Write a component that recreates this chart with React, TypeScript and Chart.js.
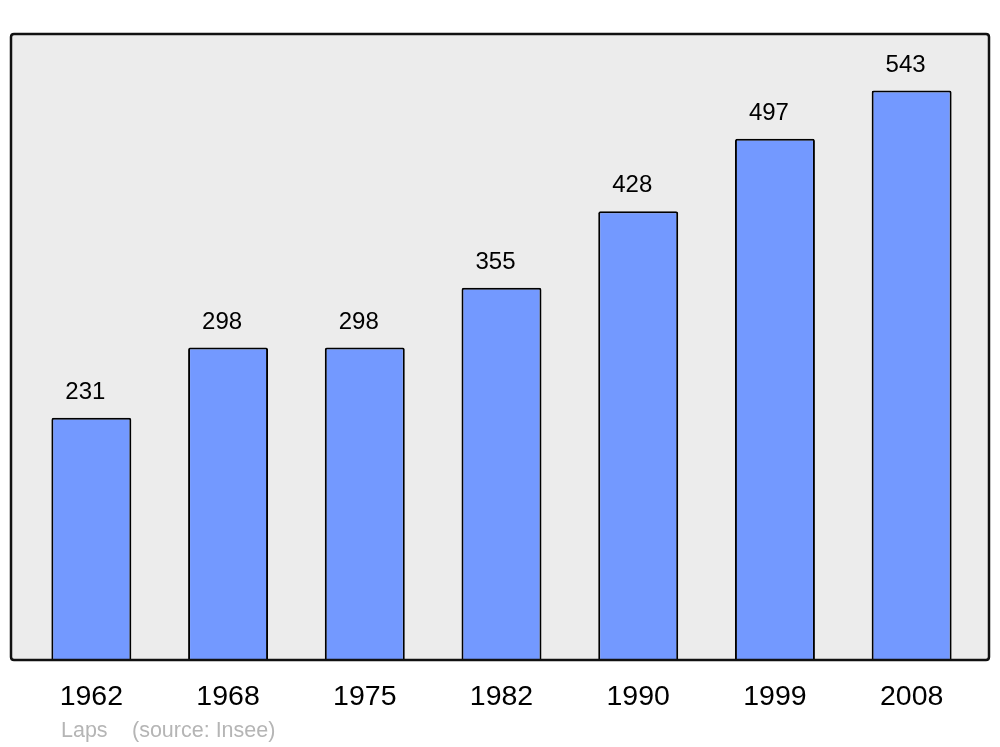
import React, { useEffect, useRef } from "react";
import { Chart, registerables } from "chart.js";

Chart.register(...registerables);

const years = ["1962", "1968", "1975", "1982", "1990", "1999", "2008"];
const population = [231, 298, 298, 355, 428, 497, 543];
const footerLeft = "Laps";
const footerRight = "(source: Insee)";

const FONT = "'Liberation Sans', Arial, sans-serif";

function roundRect(ctx: CanvasRenderingContext2D, x: number, y: number, w: number, h: number, r: number) {
  ctx.beginPath();
  ctx.moveTo(x + r, y);
  ctx.lineTo(x + w - r, y);
  ctx.quadraticCurveTo(x + w, y, x + w, y + r);
  ctx.lineTo(x + w, y + h - r);
  ctx.quadraticCurveTo(x + w, y + h, x + w - r, y + h);
  ctx.lineTo(x + r, y + h);
  ctx.quadraticCurveTo(x, y + h, x, y + h - r);
  ctx.lineTo(x, y + r);
  ctx.quadraticCurveTo(x, y, x + r, y);
  ctx.closePath();
}

const framePlugin = {
  id: "frame",
  beforeDatasetsDraw(chart: any) {
    const { ctx, chartArea } = chart;
    const x = chartArea.left - 12;
    const y = chartArea.top;
    const w = chartArea.right + 9 - x;
    const h = chartArea.bottom - y;
    ctx.save();
    roundRect(ctx, x, y, w, h, 3);
    ctx.fillStyle = "#ececec";
    ctx.fill();
    ctx.restore();
  },
  afterDatasetsDraw(chart: any) {
    const { ctx, chartArea } = chart;
    const x = chartArea.left - 12;
    const y = chartArea.top;
    const w = chartArea.right + 9 - x;
    const h = chartArea.bottom - y;
    ctx.save();
    roundRect(ctx, x, y, w, h, 3);
    ctx.lineWidth = 2.5;
    ctx.strokeStyle = "#111111";
    ctx.stroke();

    // value labels
    const meta = chart.getDatasetMeta(0);
    ctx.fillStyle = "#000";
    ctx.font = `24px ${FONT}`;
    ctx.textAlign = "center";
    ctx.textBaseline = "alphabetic";
    meta.data.forEach((bar: any, i: number) => {
      ctx.fillText(String(population[i]), bar.x - 6, bar.y - 19);
    });

    // footer
    ctx.fillStyle = "#b5b5b5";
    ctx.font = `21.5px ${FONT}`;
    ctx.textAlign = "left";
    ctx.fillText(footerLeft, chartArea.left + 38, chartArea.bottom + 77);
    ctx.fillText(footerRight, chartArea.left + 109, chartArea.bottom + 77);
    ctx.restore();
  },
};

export default function App() {
  const ref = useRef<HTMLCanvasElement>(null);
  useEffect(() => {
    document.body.style.margin = "0";
    const chart = new Chart(ref.current!, {
      type: "bar",
      data: {
        labels: years,
        datasets: [
          {
            data: population,
            backgroundColor: "#7399ff",
            borderColor: "#000000",
            borderWidth: 2,
            borderRadius: 2,
            barPercentage: 0.585,
            categoryPercentage: 1,
          },
        ],
      },
      options: {
        animation: false,
        responsive: false,
        maintainAspectRatio: false,
        layout: { padding: { left: 23, right: 20, top: 34, bottom: 0 } },
        plugins: { legend: { display: false }, tooltip: { enabled: false } },
        scales: {
          x: {
            grid: { display: false, drawTicks: false },
            border: { display: false },
            ticks: { color: "#000", font: { size: 28.5, family: FONT }, padding: 20 },
            afterFit(scale: any) {
              scale.height = 87;
            },
          },
          y: { display: false, min: 0, max: 597 },
        },
      },
      plugins: [framePlugin],
    });
    return () => chart.destroy();
  }, []);
  return (
    <div style={{ position: "absolute", left: 0, top: 0, width: 1000, height: 747 }}>
      <canvas ref={ref} width={1000} height={747} style={{ display: "block" }} />
    </div>
  );
}
